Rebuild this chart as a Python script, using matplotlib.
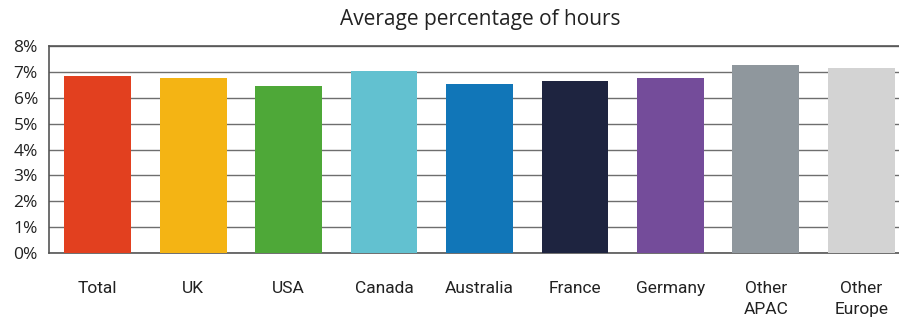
import matplotlib
matplotlib.use("Agg")
import matplotlib.pyplot as plt
from matplotlib.ticker import FuncFormatter

categories = ["Total", "UK", "USA", "Canada", "Australia", "France",
              "Germany", "Other\nAPAC", "Other\nEurope"]
values = [6.85, 6.75, 6.45, 7.05, 6.55, 6.65, 6.75, 7.25, 7.15]
colors = ["#E2401F", "#F4B414", "#4EA838", "#62C1D0", "#1176B8",
          "#1E2440", "#744C9A", "#8F979D", "#D3D3D3"]
y_ticks = [0, 1, 2, 3, 4, 5, 6, 7, 8]

fig = plt.figure(figsize=(8.99, 3.2), dpi=100)
ax = fig.add_axes([49 / 899, 1 - 253 / 320, 861 / 899, 207 / 320])

x = range(len(categories))
ax.bar(x, values, width=0.70, color=colors, zorder=3)

ax.set_ylim(0, 8)
ax.set_xlim(-0.51, len(categories) - 1 + 0.51)
ax.set_yticks(y_ticks)
ax.yaxis.set_major_formatter(FuncFormatter(lambda v, p: f"{v:.0f}%"))
ax.grid(axis="y", color="#6e6e6e", linewidth=1.0, zorder=0)
ax.set_axisbelow(True)

for side in ["left", "bottom", "top"]:
    ax.spines[side].set_color("#555555")
    ax.spines[side].set_linewidth(1.2)
ax.spines["right"].set_visible(False)

ax.tick_params(axis="y", length=0, pad=8, labelsize=12.5, labelcolor="#222222")
ax.tick_params(axis="x", length=0, pad=20)
ax.set_xticks(list(x))
ax.set_xticklabels(categories, fontsize=12.5, color="#222222",
                   family=["Roboto", "DejaVu Sans"],
                   linespacing=1.5)
for lbl in ax.get_yticklabels():
    lbl.set_family(["Open Sans", "DejaVu Sans"])

fig.text(480 / 899, 1 - 20 / 320, "Average percentage of hours",
         ha="center", va="center", fontsize=15, color="#222222",
         family=["Open Sans", "DejaVu Sans"])

fig.savefig("out.png", dpi=100)
